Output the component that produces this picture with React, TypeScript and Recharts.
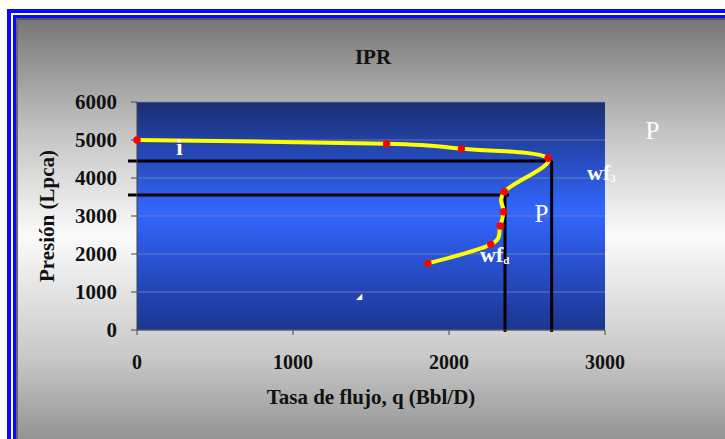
import {
  ComposedChart,
  Line,
  XAxis,
  YAxis,
  CartesianGrid,
  ReferenceLine,
  ReferenceDot,
} from 'recharts'

// IPR curve
const rates = [0, 1600, 2080, 2635, 2355, 2350, 2328, 2268, 1865]
const pressures = [5000, 4900, 4770, 4520, 3640, 3110, 2735, 2250, 1750]

const xTicks = [0, 1000, 2000, 3000]
const yTicks = [0, 1000, 2000, 3000, 4000, 5000, 6000]

// black guide lines: q of the vertical, p of the horizontal, q where the horizontal stops
const guideRates = [2658, 2359]
const guidePressures = [4447, 3553]
const guideEnds = [2662, 2385]

// white text boxes on the chart (baseline at p)
const notes = [
  { q: 272, p: 4605, text: 'i', sub: '', anchor: 'middle', bold: true, size: 23 },
  { q: 3304, p: 5026, text: 'P', sub: '', anchor: 'middle', bold: false, size: 25 },
  { q: 2885, p: 3947, text: 'wf', sub: '3', anchor: 'start', bold: true, size: 22 },
  { q: 2593, p: 2842, text: 'P', sub: '', anchor: 'middle', bold: false, size: 25 },
  { q: 2199, p: 1789, text: 'wf', sub: 'd', anchor: 'start', bold: true, size: 22 },
  { q: 1420, p: 816, text: '◢', sub: '', anchor: 'middle', bold: false, size: 8 },
]

const data = rates.map((q, i) => ({ q, p: pressures[i] }))

const serif = '"Liberation Serif", "Times New Roman", serif'

// Excel-like smoothed line (Catmull-Rom through every point)
function smoothCurve(context: any) {
  let pts: [number, number][] = []
  return {
    areaStart() {},
    areaEnd() {},
    lineStart() {
      pts = []
    },
    point(x: number, y: number) {
      pts.push([+x, +y])
    },
    lineEnd() {
      if (!pts.length) return
      context.moveTo(pts[0][0], pts[0][1])
      for (let i = 0; i < pts.length - 1; i++) {
        const p0 = pts[Math.max(i - 1, 0)]
        const p1 = pts[i]
        const p2 = pts[i + 1]
        const p3 = pts[Math.min(i + 2, pts.length - 1)]
        context.bezierCurveTo(
          p1[0] + (p2[0] - p0[0]) / 6,
          p1[1] + (p2[1] - p0[1]) / 6,
          p2[0] - (p3[0] - p1[0]) / 6,
          p2[1] - (p3[1] - p1[1]) / 6,
          p2[0],
          p2[1],
        )
      }
    },
  }
}

function NoteShape(props: { cx?: number; cy?: number; note: typeof notes[number] }) {
  const { cx = 0, cy = 0, note } = props
  return (
    <text
      x={cx}
      y={cy}
      fill="#ffffff"
      fontFamily={serif}
      fontWeight={note.bold ? 'bold' : 'normal'}
      fontSize={note.size}
      textAnchor={note.anchor as 'start' | 'middle'}
    >
      {note.text}
      {note.sub && (
        <tspan fontSize={11} dy={2}>
          {note.sub}
        </tspan>
      )}
    </text>
  )
}

function Dot(props: { cx?: number; cy?: number }) {
  const { cx = 0, cy = 0 } = props
  return <circle cx={cx} cy={cy} r={3.7} fill="#ff0000" />
}

export default function App() {
  return (
    <div style={{ position: 'fixed', left: 0, top: 0, width: 725, height: 439, overflow: 'hidden', background: '#fff' }}>
      <div
        style={{
          position: 'absolute',
          left: 7,
          top: 9,
          width: 760,
          height: 470,
          border: '4px solid #0a0aff',
          boxSizing: 'border-box',
        }}
      >
        <div style={{ width: '100%', height: '100%', border: '2px solid #fff', boxSizing: 'border-box' }}>
          <div style={{ width: '100%', height: '100%', border: '3px solid #0a0aff', boxSizing: 'border-box' }}>
            <div
              style={{
                width: '100%',
                height: '100%',
                boxSizing: 'border-box',
                borderTop: '2px solid #555',
                borderLeft: '2px solid #666',
                background: 'linear-gradient(180deg, #777777 0%, #c4c4c4 25%, #fbfbfb 48%, #c8c8c8 75%, #808080 100%)',
              }}
            />
          </div>
        </div>
      </div>
      <div style={{ position: 'absolute', left: 0, top: 45, width: 746, textAlign: 'center', fontFamily: serif, fontWeight: 'bold', fontSize: 21, color: '#111' }}>
        IPR
      </div>
      <div style={{ position: 'absolute', left: 0, top: 0 }}>
        <ComposedChart
          width={725}
          height={439}
          data={data}
          margin={{ top: 102, right: 120, bottom: 35, left: 77 }}
        >
          <defs>
            <linearGradient id="plotFill" x1="0" y1="0" x2="0" y2="1">
              <stop offset="0%" stopColor="#1a2e72" />
              <stop offset="48%" stopColor="#3366ff" />
              <stop offset="100%" stopColor="#1b3590" />
            </linearGradient>
          </defs>
          <CartesianGrid
            vertical={false}
            fill="url(#plotFill)"
            stroke="#8090b0"
            strokeOpacity={0.7}
            horizontalValues={yTicks}
          />
          <XAxis
            type="number"
            dataKey="q"
            domain={[0, 3000]}
            ticks={xTicks}
            tick={{ fill: '#111', fontSize: 20, fontWeight: 'bold', fontFamily: serif }}
            tickSize={5}
            tickMargin={20}
            axisLine={{ stroke: '#444' }}
            tickLine={{ stroke: '#444' }}
            height={74}
            label={{
              value: 'Tasa de flujo, q (Bbl/D)',
              position: 'insideBottom',
              offset: 0,
              fill: '#111',
              fontSize: 21,
              fontWeight: 'bold',
              fontFamily: serif,
            }}
          />
          <YAxis
            type="number"
            domain={[0, 6000]}
            ticks={yTicks}
            tick={{ fill: '#111', fontSize: 21, fontWeight: 'bold', fontFamily: serif }}
            tickSize={6}
            tickMargin={14}
            axisLine={{ stroke: '#444' }}
            tickLine={{ stroke: '#444' }}
            width={60}
            label={{
              value: 'Presión (Lpca)',
              angle: -90,
              position: 'insideLeft',
              offset: -30,
              fill: '#111',
              fontSize: 21,
              fontWeight: 'bold',
              fontFamily: serif,
              style: { textAnchor: 'middle' },
            }}
          />
          {guidePressures.map((p, i) => (
            <ReferenceLine
              key={'h' + i}
              segment={[{ x: -58, y: p }, { x: guideEnds[i], y: p }]}
              stroke="#000"
              strokeWidth={3}
              ifOverflow="visible"
            />
          ))}
          {guideRates.map((q, i) => (
            <ReferenceLine
              key={'v' + i}
              segment={[{ x: q, y: -50 }, { x: q, y: guidePressures[i] }]}
              stroke="#000"
              strokeWidth={3}
              ifOverflow="visible"
            />
          ))}
          <Line
            dataKey="p"
            type={smoothCurve as any}
            stroke="#ffff00"
            strokeWidth={4}
            dot={<Dot />}
            activeDot={false}
            isAnimationActive={false}
          />
          {notes.map((n, i) => (
            <ReferenceDot
              key={i}
              x={n.q}
              y={n.p}
              r={0}
              ifOverflow="visible"
              shape={(props: { cx?: number; cy?: number }) => <NoteShape {...props} note={n} />}
            />
          ))}
        </ComposedChart>
      </div>
    </div>
  )
}
